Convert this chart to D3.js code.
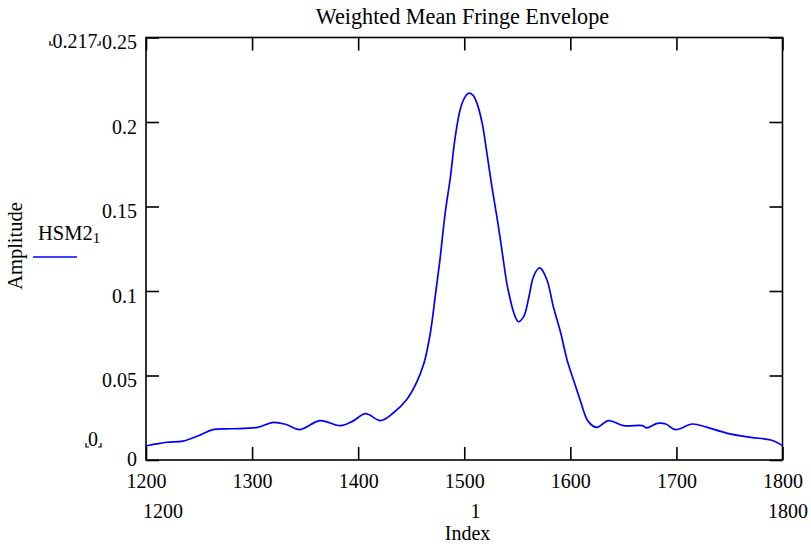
<!DOCTYPE html>
<html>
<head>
<meta charset="utf-8">
<script src="https://cdn.jsdelivr.net/npm/d3@7"></script>
<style>
  body { margin: 0; background: #fff; }
  svg { display: block; }
  text { font-family: "Liberation Serif", "Times New Roman", serif; fill: #000; }
</style>
</head>
<body>
<svg id="chart" width="811" height="546"></svg>
<script>
// ---- data ----
const indexValues = [1200,1210,1220,1235,1250,1263,1280,1305,1320,1332,1345,1364,1383,1395,1407,1421,1433,1446,1454,1462,1468,1473,1477,1482,1487,1491,1496,1500,1504,1508,1512,1517,1521,1526,1531,1536,1540,1543,1546,1549,1551,1556,1561,1565,1570,1572,1578,1584,1591,1597,1603,1609,1617,1625,1636,1650,1668,1672,1682,1690,1699,1715,1729,1748,1770,1789,1800];
const amplitudeValues = [0.0083,0.0095,0.0105,0.0112,0.0145,0.018,0.0185,0.0193,0.0223,0.021,0.018,0.0233,0.0203,0.023,0.0274,0.0233,0.0278,0.036,0.0444,0.0572,0.075,0.0986,0.118,0.146,0.1676,0.189,0.207,0.214,0.217,0.216,0.211,0.199,0.183,0.162,0.143,0.122,0.105,0.096,0.0885,0.0835,0.0818,0.0848,0.0966,0.108,0.1134,0.1135,0.1065,0.0907,0.075,0.059,0.0473,0.036,0.0227,0.0193,0.0233,0.0203,0.0203,0.019,0.0217,0.0213,0.018,0.0213,0.0193,0.0158,0.0134,0.0118,0.0085];
const xTicks = [1200,1300,1400,1500,1600,1700,1800];
const xTickLabels = ["1200","1300","1400","1500","1600","1700","1800"];
const yTicks = [0,0.05,0.1,0.15,0.2,0.25];
const yTickLabels = ["0","0.05","0.1","0.15","0.2","0.25"];
const titleText = "Weighted Mean Fringe Envelope";
const xAxisTitle = "Index";
const yAxisTitle = "Amplitude";
const seriesName = "HSM2";
const seriesSub = "1";
const xLimitLabels = ["1200","1","1800"];
const yLimitLabels = ["0.217","0"];

// ---- layout ----
const svg = d3.select("#chart");
const L = 146, R = 782.5, T = 37.5, B = 460;
const x = d3.scaleLinear().domain([1200,1800]).range([L,R]);
const y = d3.scaleLinear().domain([0,0.25]).range([B,T]);
const tickLen = 13;

// frame
svg.append("rect").attr("x",L).attr("y",T).attr("width",R-L).attr("height",B-T)
  .attr("fill","none").attr("stroke","#000").attr("stroke-width",1.6);

// bottom axis
const gx = svg.append("g").attr("transform",`translate(0,${B})`)
  .call(d3.axisBottom(x).tickValues(xTicks).tickSize(-tickLen).tickPadding(12)
        .tickFormat((d,i)=>xTickLabels[i]));
gx.select(".domain").remove();
gx.selectAll("line").attr("stroke","#000").attr("stroke-width",1.6);
gx.selectAll("text").attr("font-size",20).attr("dy",0).attr("y",28)
  .style("font-family","Liberation Serif").attr("fill","#000");

// top ticks
const gt = svg.append("g").attr("transform",`translate(0,${T})`)
  .call(d3.axisTop(x).tickValues(xTicks).tickSize(-tickLen).tickFormat(""));
gt.select(".domain").remove();
gt.selectAll("line").attr("stroke","#000").attr("stroke-width",1.6);

// left axis
const gy = svg.append("g").attr("transform",`translate(${L},0)`)
  .call(d3.axisLeft(y).tickValues(yTicks).tickSize(-tickLen).tickPadding(9)
        .tickFormat((d,i)=>yTickLabels[i]));
gy.select(".domain").remove();
gy.selectAll("line").attr("stroke","#000").attr("stroke-width",1.6);
gy.selectAll("text").attr("font-size",20).attr("dy",0)
  .attr("y",d => d === 0 ? 5 : 11)
  .style("font-family","Liberation Serif").attr("fill","#000");

// right ticks
const gr = svg.append("g").attr("transform",`translate(${R},0)`)
  .call(d3.axisRight(y).tickValues(yTicks).tickSize(-tickLen).tickFormat(""));
gr.select(".domain").remove();
gr.selectAll("line").attr("stroke","#000").attr("stroke-width",1.6);

// series
const data = indexValues.map((v,i)=>({i:v, a:amplitudeValues[i]}));
const line = d3.line().x(d=>x(d.i)).y(d=>y(d.a)).curve(d3.curveCatmullRom.alpha(0.5));
svg.append("path").datum(data).attr("d",line)
  .attr("fill","none").attr("stroke","#0000ff").attr("stroke-width",1.7);

// title
svg.append("text").attr("x",462.5).attr("y",23.5).attr("text-anchor","middle")
  .attr("font-size",22.2).text(titleText);

// y axis title
svg.append("text").attr("transform","translate(22,246) rotate(-90)")
  .attr("text-anchor","middle").attr("font-size",20.5).text(yAxisTitle);

// legend
const lg = svg.append("text").attr("x",38).attr("y",240).attr("font-size",20.5);
lg.append("tspan").text(seriesName);
lg.append("tspan").attr("font-size",15).attr("dy",3).text(seriesSub);
svg.append("line").attr("x1",33).attr("x2",77).attr("y1",257).attr("y2",257)
  .attr("stroke","#0000ff").attr("stroke-width",1.6);

// y limit labels with corner markers
function corner(xc, yc, dir) {
  svg.append("path").attr("d", dir < 0
      ? `M${xc},${yc-4} L${xc},${yc} L${xc+3},${yc}`
      : `M${xc-3},${yc} L${xc},${yc} L${xc},${yc-4}`)
    .attr("fill","none").attr("stroke","#000").attr("stroke-width",1.2);
}
svg.append("text").attr("x",75).attr("y",48).attr("text-anchor","middle")
  .attr("font-size",20).text(yLimitLabels[0]);
corner(50,45,-1); corner(100,45,1);
svg.append("text").attr("x",93).attr("y",446).attr("text-anchor","middle")
  .attr("font-size",20).text(yLimitLabels[1]);
corner(86,447,-1); corner(101,447,1);

// x limit labels
svg.append("text").attr("x",163).attr("y",518).attr("text-anchor","middle")
  .attr("font-size",20).text(xLimitLabels[0]);
svg.append("text").attr("x",475.5).attr("y",518).attr("text-anchor","middle")
  .attr("font-size",20).text(xLimitLabels[1]);
svg.append("text").attr("x",788).attr("y",518).attr("text-anchor","middle")
  .attr("font-size",20).text(xLimitLabels[2]);
svg.append("text").attr("x",467.5).attr("y",540).attr("text-anchor","middle")
  .attr("font-size",20).text(xAxisTitle);
</script>
</body>
</html>
